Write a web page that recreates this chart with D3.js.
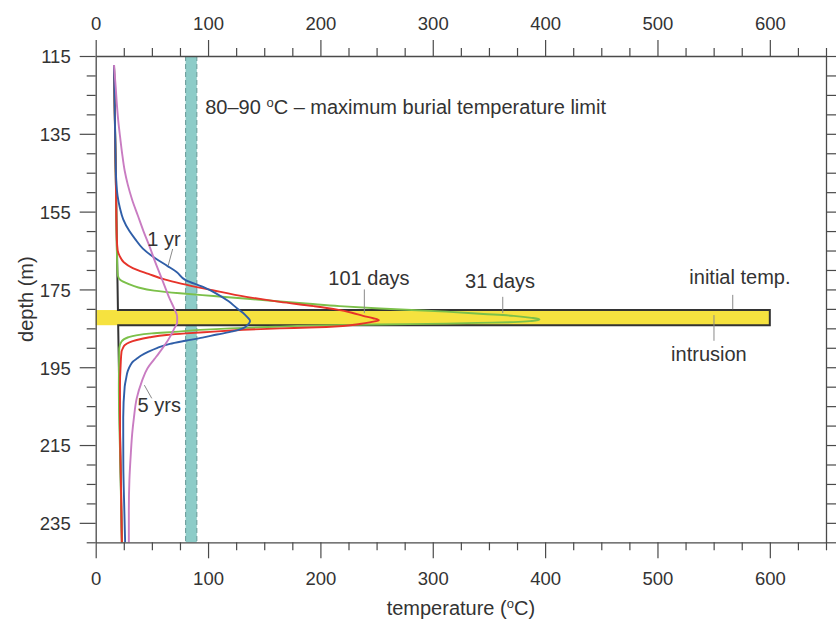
<!DOCTYPE html>
<html>
<head>
<meta charset="utf-8">
<script src="https://cdn.jsdelivr.net/npm/d3@7"></script>
<style>
  html, body { margin: 0; padding: 0; background: #fff; }
  svg { display: block; font-family: "Liberation Sans", Arial, Helvetica, sans-serif; }
</style>
</head>
<body>
<svg id="chart" width="836" height="619"></svg>
<script>
// ---- axis ticks ----
const tempTicks = [0, 100, 200, 300, 400, 500, 600];
const depthTicks = [115, 135, 155, 175, 195, 215, 235];
const tempMinor = d3.range(0, 651, 25);
const depthMinor = d3.range(115, 241, 5);

// ---- burial temperature limit (°C) ----
const limitBand = [80, 90];

// ---- intrusion: top/base depth (m) and emplacement temperature (°C) ----
const intrusionDepth = [180.3, 184.2];
const intrusionTemp = 600;

// ---- initial temperature profile ----
const initDepth = [117.3, 180.3, 180.3, 184.2, 184.2, 240];
const initTemp  = [16.3, 19.8, 600, 600, 20.0, 23.3];

// ---- 31 days ----
const depth31 = [117.3, 150, 170, 171.5, 172.6, 173.6, 174.5, 175.3, 176.0, 176.7, 177.4, 178.1, 178.7, 179.3, 179.9, 180.7, 181.3, 181.8, 182.3, 182.7, 183.1, 183.4, 183.6, 183.8, 184.0, 184.3, 184.6, 185.0, 185.4, 185.9, 186.3, 186.8, 187.3, 188.4, 190.1, 200, 220, 240];
const temp31  = [16.3, 18.1, 19.3, 19.8, 22, 29, 38, 52, 75, 105, 135, 164, 190, 217, 253, 312, 345, 372, 388, 395, 388, 372, 340, 312, 250, 190, 160, 120, 93, 70, 50, 36, 29, 23, 21, 20.6, 21.9, 23.3];

// ---- 101 days ----
const depth101 = [117.3, 150, 162, 165, 166.5, 168, 169.5, 171, 172.5, 173.5, 175.2, 176.9, 178.2, 179.3, 180.2, 181.0, 181.8, 182.4, 182.9, 183.4, 183.9, 184.4, 184.8, 185.0, 185.5, 185.9, 186.3, 186.7, 187.3, 188.0, 188.6, 189.3, 190.2, 191.0, 194.4, 200, 210, 225, 240];
const temp101  = [16.3, 18.1, 18.8, 19.6, 21.5, 25, 33, 47, 62, 76, 104, 134, 164, 194, 215, 228, 238, 247, 252, 245, 235, 220, 190, 164, 125, 102, 80, 63, 48, 36.5, 30, 26, 24, 23, 22.2, 21.6, 21.6, 22.5, 23.3];

// ---- 1 yr ----
const depth1yr = [117.3, 140, 147, 151, 154, 157, 160, 162, 164.5, 167, 169, 170.5, 172.6, 174.3, 176, 178, 179.9, 181, 182, 183.1, 184.2, 185, 185.8, 186.6, 187.4, 188.2, 189, 190, 191, 192, 192.7, 193.6, 194.4, 196, 198, 200, 208, 220, 232, 240];
const temp1yr  = [16.3, 17.6, 18.3, 19.5, 21.5, 24.5, 30, 35, 42, 53, 64, 72, 80, 95, 107, 118, 126, 131, 134.5, 137.4, 135, 131, 122, 108, 95, 80, 66, 55, 47, 40.5, 37, 33, 31, 28.5, 27, 25.8, 24.5, 24.6, 25.5, 26.2];

// ---- 5 yrs ----
const depth5yr = [117.3, 123, 128, 132, 136, 140, 144.5, 148, 152, 156, 160, 164, 168, 172, 175, 177.5, 180, 182, 183.5, 185, 187, 189.3, 191.5, 193, 195.3, 198.7, 203, 208, 212, 217, 224, 232, 240];
const temp5yr  = [16.3, 17.8, 19, 20.2, 21.8, 23.5, 25.8, 28.5, 32.5, 37.5, 42.5, 48, 53, 58.5, 62.5, 66, 70, 72.5, 72.5, 70, 66.5, 61.5, 56, 52, 46, 41, 36.5, 34, 32.5, 31.3, 30, 29.5, 29.5];

// ---- annotations: text, anchor (temp, depth), leader line endpoints ----
const labelText  = ["1 yr", "5 yrs", "101 days", "31 days", "initial temp.", "intrusion"];
const labelTemp  = [60.8, 56.6, 243.2, 359.9, 573.4, 545.8];
const labelDepth = [163.8, 206.5, 173.9, 174.7, 173.5, 193.4];
const leaderFrom = [[68.5, 164.6], [49.9, 203.0], [239.1, 175.0], [362.3, 176.9], [567.0, 176.4], [550.3, 188.2]];
const leaderTo   = [[64.5, 168.9], [43.3, 199.6], [239.1, 181.1], [362.3, 181.1], [567.0, 180.1], [550.3, 181.6]];

// ---- layout ----
const svg = d3.select("#chart");
const x = d3.scaleLinear().domain([0, 650]).range([95.7, 826]);
const y = d3.scaleLinear().domain([115, 240]).range([56, 542.3]);
const axisColor = "#4a4a4a";
const textColor = "#333";
const labelSize = 20;

// limit band with dashed edges
const band = svg.append("g");
band.append("rect")
  .attr("x", x(limitBand[0])).attr("width", x(limitBand[1]) - x(limitBand[0]))
  .attr("y", y(115)).attr("height", y(240) - y(115))
  .attr("fill", "#8dccc8");
limitBand.forEach(t => {
  band.append("line")
    .attr("x1", x(t)).attr("x2", x(t)).attr("y1", y(115)).attr("y2", y(240))
    .attr("stroke", "#6f9f9d").attr("stroke-width", 1.1).attr("stroke-dasharray", "5,3");
});

// intrusion body
svg.append("rect")
  .attr("x", x(0)).attr("width", x(intrusionTemp) - x(0))
  .attr("y", y(intrusionDepth[0])).attr("height", y(intrusionDepth[1]) - y(intrusionDepth[0]))
  .attr("fill", "#f6e23f");

const line = d3.line().x(d => x(d[1])).y(d => y(d[0]));
const smooth = d3.line().x(d => x(d[1])).y(d => y(d[0])).curve(d3.curveMonotoneY);

// initial temperature profile
svg.append("path")
  .attr("d", line(d3.zip(initDepth, initTemp)))
  .attr("fill", "none").attr("stroke", "#333").attr("stroke-width", 2);

// modelled profiles
const profiles = [
  { depth: depth31, temp: temp31, color: "#7cc04a" },
  { depth: depth101, temp: temp101, color: "#e6332a" },
  { depth: depth1yr, temp: temp1yr, color: "#2f5ea8" },
  { depth: depth5yr, temp: temp5yr, color: "#c97cc2" }
];
profiles.forEach(p => {
  svg.append("path")
    .attr("d", smooth(d3.zip(p.depth, p.temp)))
    .attr("fill", "none").attr("stroke", p.color).attr("stroke-width", 1.9)
    .attr("stroke-linejoin", "round");
});

// leader lines
const leaders = svg.append("g").attr("stroke", "#8a8a8a").attr("stroke-width", 1);
leaderFrom.forEach((f, i) => {
  const t = leaderTo[i];
  leaders.append("line")
    .attr("x1", x(f[0])).attr("y1", y(f[1]))
    .attr("x2", x(t[0])).attr("y2", y(t[1]));
});

// labels
labelText.forEach((s, i) => {
  svg.append("text")
    .attr("x", x(labelTemp[i])).attr("y", y(labelDepth[i]))
    .attr("text-anchor", "middle")
    .attr("font-size", labelSize).attr("fill", textColor)
    .text(s);
});

// limit band caption
const cap = svg.append("text")
  .attr("x", x(97.5)).attr("y", y(129.8))
  .attr("font-size", labelSize).attr("fill", textColor);
cap.append("tspan").text("80–90 ");
cap.append("tspan").attr("font-size", 13).attr("dy", -7).text("o");
cap.append("tspan").attr("dy", 7).text("C – maximum burial temperature limit");

// ---- axes ----
function styleAxis(g) {
  g.selectAll("path.domain").attr("stroke", axisColor).attr("stroke-width", 1.3);
  g.selectAll(".tick line").attr("stroke", axisColor).attr("stroke-width", 1.2);
  g.selectAll(".tick text").attr("fill", textColor).attr("font-size", 18.5)
    .attr("font-family", "Liberation Sans, Arial, sans-serif");
}
const noLabel = () => "";

// top
const gTop = svg.append("g").attr("transform", `translate(0,${y(115)})`)
  .call(d3.axisTop(x).tickValues(tempTicks).tickSize(16).tickSizeOuter(0).tickPadding(10));
styleAxis(gTop);
gTop.selectAll(".tick text").attr("y", -26.5).attr("dy", null);
const gTopMinor = svg.append("g").attr("transform", `translate(0,${y(115)})`)
  .call(d3.axisTop(x).tickValues(tempMinor.filter(v => v % 100 !== 0)).tickSize(8).tickFormat(noLabel));
gTopMinor.select("path.domain").remove();
styleAxis(gTopMinor);

// bottom
const gBot = svg.append("g").attr("transform", `translate(0,${y(240)})`)
  .call(d3.axisBottom(x).tickValues(tempTicks).tickSize(16).tickSizeOuter(0));
styleAxis(gBot);
gBot.selectAll(".tick text").attr("y", 42.7).attr("dy", null);
const gBotMinor = svg.append("g").attr("transform", `translate(0,${y(240)})`)
  .call(d3.axisBottom(x).tickValues(tempMinor.filter(v => v % 100 !== 0)).tickSize(8).tickFormat(noLabel));
gBotMinor.select("path.domain").remove();
styleAxis(gBotMinor);

// left
const gLeft = svg.append("g").attr("transform", `translate(${x(0)},0)`)
  .call(d3.axisLeft(y).tickValues(depthTicks).tickSize(16).tickSizeOuter(0).tickPadding(9));
styleAxis(gLeft);
gLeft.selectAll(".tick text").attr("dy", "0.37em");
const gLeftMinor = svg.append("g").attr("transform", `translate(${x(0)},0)`)
  .call(d3.axisLeft(y).tickValues(depthMinor.filter(v => (v - 115) % 20 !== 0)).tickSize(9).tickFormat(noLabel));
gLeftMinor.select("path.domain").remove();
styleAxis(gLeftMinor);

// right
const gRight = svg.append("g").attr("transform", `translate(${x(650)},0)`)
  .call(d3.axisRight(y).tickValues(depthMinor).tickSize(12).tickSizeOuter(0).tickFormat(noLabel));
styleAxis(gRight);

// axis titles
const xt = svg.append("text")
  .attr("x", (x(0) + x(650)) / 2).attr("y", 615)
  .attr("text-anchor", "middle").attr("font-size", labelSize).attr("fill", textColor);
xt.append("tspan").text("temperature (");
xt.append("tspan").attr("font-size", 13).attr("dy", -7).text("o");
xt.append("tspan").attr("dy", 7).text("C)");

svg.append("text")
  .attr("transform", `translate(33,${(y(115) + y(240)) / 2}) rotate(-90)`)
  .attr("text-anchor", "middle").attr("font-size", labelSize).attr("fill", textColor)
  .text("depth (m)");
</script>
</body>
</html>
